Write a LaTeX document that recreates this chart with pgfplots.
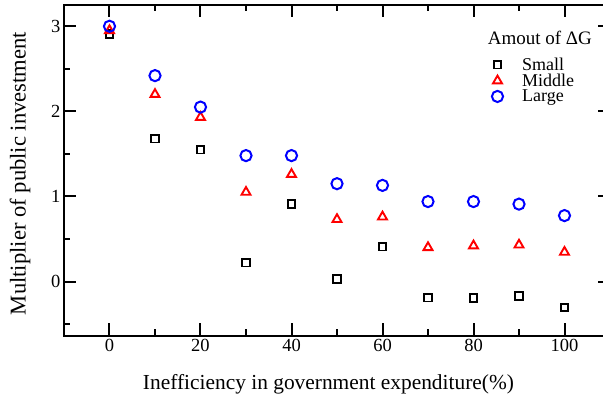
\documentclass[border=0pt]{standalone}
\usepackage{fontspec}
\setmainfont{Liberation Serif}
\usepackage{pgfplots}
\pgfplotsset{compat=1.18}
\pgfplotstableread{
x   small  middle  large
0   2.91   2.95    3.00
10  1.68   2.20    2.42
20  1.55   1.93    2.05
30  0.22   1.05    1.48
40  0.91   1.26    1.48
50  0.03   0.73    1.15
60  0.41   0.76    1.13
70  -0.19  0.40    0.94
80  -0.195 0.42    0.94
90  -0.17  0.43    0.91
100 -0.305 0.345   0.775
}\datatable
\begin{document}
\begin{tikzpicture}
\begin{axis}[
  at={(0pt,0pt)}, anchor=south west,
  scale only axis, width=546pt, height=331pt,
  xmin=-10, xmax=110, ymin=-0.64, ymax=3.25,
  xtick={0,20,40,60,80,100}, minor xtick={10,30,50,70,90},
  ytick={0,1,2,3}, minor ytick={-0.5,0.5,1.5,2.5},
  tick align=inside, major tick length=12.5pt, minor tick length=6.5pt,
  axis line style={line width=2pt},
  every tick/.style={black, line width=2pt},
  tick label style={font=\fontsize{18.5}{18.5}\selectfont},
  xlabel={Inefficiency in government expenditure(\%)},
  ylabel={Multiplier of public investment},
  xlabel style={font=\fontsize{21.4}{21.4}\selectfont, at={(axis description cs:0.4844,-0.163)}, anchor=base},
  ylabel style={font=\fontsize{22.6}{22.6}\selectfont, at={(axis description cs:-0.0705,0.491)}, anchor=base},
  /pgf/number format/assume math mode=true,
  legend style={draw=none, fill=none, font=\fontsize{18}{18}\selectfont,
    at={(axis cs:84.0,2.655)}, anchor=north west, row sep=-2pt,
    legend cell align=left, inner sep=0pt,
    /tikz/every odd column/.append style={column sep=17pt}},
]
\addplot[only marks, mark=square, mark size=3.8pt, line width=1.7pt, black] table[x=x,y=small] {\datatable};
\addlegendentry{Small}
\addplot[only marks, mark=triangle, mark size=5.2pt, line width=1.9pt, red] table[x=x,y=middle] {\datatable};
\addlegendentry{Middle}
\addplot[only marks, mark=o, mark size=5.6pt, line width=2pt, blue] table[x=x,y=large] {\datatable};
\addlegendentry{Large}
\node[anchor=base west, font=\fontsize{19}{19}\selectfont, inner sep=0pt] at (axis cs:83.1,2.78) {Amout of ΔG};
\end{axis}
\pgfresetboundingbox
\useasboundingbox (-64pt,-62pt) rectangle (539pt,336pt);
\end{tikzpicture}
\end{document}
